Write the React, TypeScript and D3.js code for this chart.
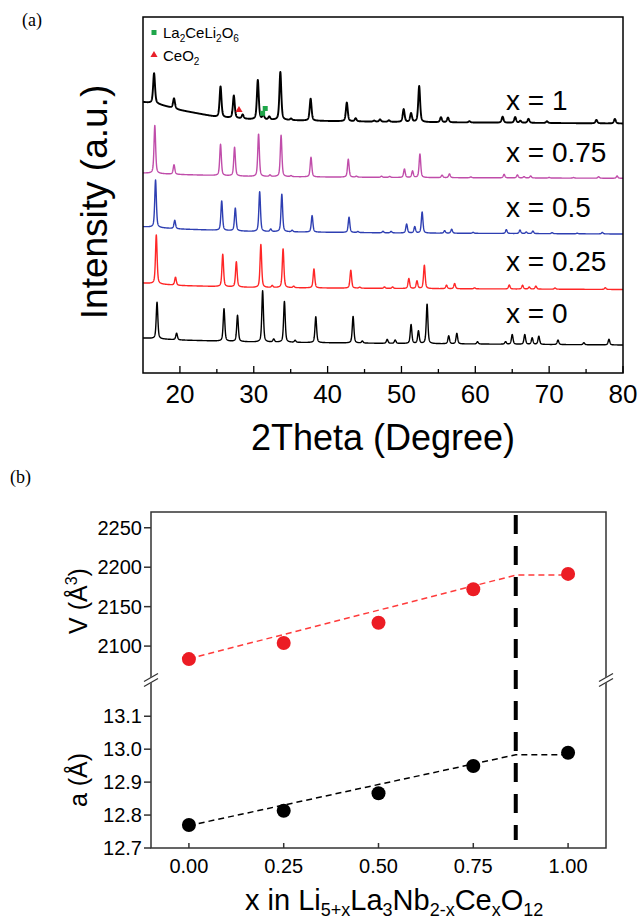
import React from 'react';
import * as d3 from 'd3';

// ---------------- Panel (a): XRD patterns ----------------
const twoThetaTicks = [20, 30, 40, 50, 60, 70, 80];
const twoThetaMinorTicks = [25, 35, 45, 55, 65, 75];
const sampleLabels = ['x = 0', 'x = 0.25', 'x = 0.5', 'x = 0.75', 'x = 1'];

// background levels (2θ, intensity a.u. incl. stacking offset)
const background_x0 = [[15, 35], [20, 33], [30, 31], [50, 29.5], [80, 28]];
const background_x025 = [[15, 90], [20, 87.5], [30, 85.5], [50, 84.5], [80, 83.5]];
const background_x05 = [[15, 146.3], [20, 144], [30, 141.5], [50, 140], [80, 139]];
const background_x075 = [[15, 200], [20, 198.5], [30, 196.5], [50, 195.5], [80, 194.7]];
const background_x1 = [[15, 271], [17, 269], [20, 263], [25, 256], [30, 253.5], [40, 252], [50, 251], [80, 249.5]];

// peaks (2θ, height a.u.)
const peaks_x0 = [
  [16.9, 36.6], [19.55, 6.7], [25.97, 32.5], [27.8, 26.2], [31.2, 51.3], [32.7, 3], [34.15, 41],
  [35.6, 2], [38.4, 26], [43.45, 26.7], [44.7, 2], [48.07, 4], [49.15, 3.4], [51.3, 19],
  [52.3, 12.5], [53.47, 39.6], [56.4, 8], [57.5, 10.5], [60.3, 2.3], [64.1, 2.5], [65.0, 9.7],
  [66.7, 9.8], [67.7, 6.5], [68.6, 8.2], [71.2, 4.5], [74.7, 2], [78.1, 5.6],
];
const peaks_x025 = [
  [16.8, 49], [19.4, 8], [25.8, 32.4], [27.64, 25.3], [30.96, 43], [32.5, 2], [33.97, 39],
  [35.4, 1.5], [38.15, 19], [43.14, 18], [44.35, 1], [47.7, 1.5], [48.8, 1.5], [51.0, 10],
  [52.1, 7.6], [53.1, 23.4], [56.1, 3.5], [57.2, 5.2], [59.9, 1], [64.6, 4], [66.4, 3.8],
  [67.3, 2], [68.2, 3], [70.8, 1.2], [77.6, 1.7],
];
const peaks_x05 = [
  [16.7, 47.5], [19.3, 8.3], [25.66, 29.5], [27.5, 22.7], [30.8, 39.8], [32.3, 2.5], [33.8, 37.5],
  [35.2, 1.5], [37.9, 16.5], [42.9, 15.3], [44.1, 1], [47.5, 1.5], [48.6, 1.5], [50.7, 9],
  [51.8, 6.3], [52.8, 21], [55.85, 2.5], [56.8, 4], [59.7, 1], [64.2, 3.8], [66.05, 3.5],
  [66.9, 1.5], [67.8, 2.5], [70.4, 1], [73.8, 0.6], [77.2, 1.5],
];
const peaks_x075 = [
  [16.6, 48], [19.2, 9.5], [25.5, 31.3], [27.4, 28.7], [30.65, 42.5], [32.2, 1.5], [33.7, 41.4],
  [35.05, 1], [37.75, 19.7], [42.8, 18], [43.9, 1], [47.3, 1.2], [48.4, 1], [50.4, 8.5],
  [51.5, 6.5], [52.5, 23.6], [55.5, 2.5], [56.5, 3.8], [59.4, 0.8], [63.9, 3.6], [65.7, 3],
  [66.6, 1.3], [67.5, 2], [70.0, 0.6], [73.3, 0.6], [76.7, 1.5], [79.2, 2.3],
];
const peaks_x1 = [
  [16.5, 30.3], [19.2, 10], [25.5, 30.8], [27.3, 22.5], [28.5, 4], [30.55, 39.5], [31.3, 4.5],
  [32.1, 3], [33.6, 48], [35.05, 1.5], [37.7, 22], [42.6, 18.7], [43.8, 3], [46.3, 1],
  [47.1, 2.3], [48.3, 1.5], [50.3, 12.7], [51.3, 8.7], [52.4, 36], [55.35, 5], [56.3, 4.7],
  [59.2, 1.2], [63.7, 6], [65.4, 5.7], [66.1, 2], [67.2, 4], [69.7, 1.7], [76.4, 3.4], [78.9, 4.5],
];

// impurity markers on the x = 1 pattern
const ceo2Marks = [[28.0, 263]];
const la2CeLi2O6Marks = [[31.2, 259.7], [31.55, 264.5]];

// ---------------- Panel (b): lattice parameters ----------------
const ceContent = [0, 0.25, 0.5, 0.75, 1.0];
const cellVolume = [2083.5, 2104, 2129.5, 2172, 2191.5];
const latticeA = [12.77, 12.813, 12.866, 12.949, 12.989];
const volumeGuide = [[0, 2084], [0.862, 2190], [1.0, 2190]];
const latticeGuide = [[0, 12.768], [0.862, 12.983], [1.0, 12.983]];
const solubilityLimit = 0.862;
const xTicksB = [0, 0.25, 0.5, 0.75, 1.0];
const vTicks = [2100, 2150, 2200, 2250];
const aTicks = [12.7, 12.8, 12.9, 13.0, 13.1];

// ---------------- styles / layout ----------------
const traceColors = ['#000000', '#FF2626', '#2E3FB2', '#C04DAA', '#000000'];
const traceWidths = [1.4, 1.4, 1.4, 1.4, 1.9];
const labelBaselines = [323, 271, 217, 162, 110];
const FONT = 'Liberation Sans, Arial, Helvetica, sans-serif';
const SERIF = 'Liberation Serif, Times New Roman, serif';

const A = { left: 143, right: 623, top: 17, bottom: 373 };
const B = { left: 151, right: 606, top: 512, bottom: 848, brk: 680 };

function pv(d: number, w: number) {
  const t = (2 * d) / w;
  return 0.5 / (1 + t * t) + 0.5 * Math.exp(-Math.LN2 * t * t);
}

function pattern(bg: number[][], peaks: number[][], w: number) {
  const bgScale = d3.scaleLinear().domain(bg.map((p) => p[0])).range(bg.map((p) => p[1])).clamp(true);
  const thetas = d3.range(15, 80.001, 0.02);
  return thetas.map((t) => {
    let v = bgScale(t);
    for (const [c, h] of peaks) {
      if (Math.abs(t - c) < 4) v += h * pv(t - c, w);
    }
    return [t, v] as [number, number];
  });
}

export default function App() {
  const x = d3.scaleLinear().domain([15, 80]).range([A.left, A.right]);
  const y = d3.scaleLinear().domain([0, 356]).range([A.bottom, A.top]);
  const series = [
    pattern(background_x0, peaks_x0, 0.26),
    pattern(background_x025, peaks_x025, 0.26),
    pattern(background_x05, peaks_x05, 0.26),
    pattern(background_x075, peaks_x075, 0.26),
    pattern(background_x1, peaks_x1, 0.3),
  ];
  const line = d3.line<[number, number]>().x((d) => x(d[0])).y((d) => y(d[1]));

  const xb = d3.scaleLinear().domain([-0.1, 1.1]).range([B.left, B.right]);
  const yv = d3.scaleLinear().domain([2057, 2270]).range([B.brk, B.top]);
  const ya = d3.scaleLinear().domain([12.7, 13.21]).range([B.bottom, B.brk]);
  const lineV = d3.line<number[]>().x((d) => xb(d[0])).y((d) => yv(d[1]));
  const lineA = d3.line<number[]>().x((d) => xb(d[0])).y((d) => ya(d[1]));
  const fx = d3.format('.2f');
  const fa = d3.format('.1f');

  const breakMark = (cx: number, cy: number) => (
    <g>
      <polygon points={`${cx - 8},${cy + 1.5} ${cx + 8},${cy - 7.5} ${cx + 8},${cy - 1.5} ${cx - 8},${cy + 7.5}`} fill="#fff" />
      <line x1={cx - 7} y1={cy + 1.5} x2={cx + 7} y2={cy - 6.5} stroke="#333" strokeWidth={1.3} />
      <line x1={cx - 7} y1={cy + 6.5} x2={cx + 7} y2={cy - 1.5} stroke="#333" strokeWidth={1.3} />
    </g>
  );

  return (
    <svg width={640} height={920} style={{ position: 'absolute', left: 0, top: 0, background: '#fff' }}>
      {/* ---------- panel (a) ---------- */}
      <text x={22} y={26} fontFamily={SERIF} fontSize={18}>(a)</text>
      {series.map((s, i) => (
        <path key={i} d={line(s) || ''} fill="none" stroke={traceColors[i]} strokeWidth={traceWidths[i]} strokeLinejoin="round" />
      ))}
      {ceo2Marks.map((m, i) => (
        <path key={'c' + i} d={d3.symbol(d3.symbolTriangle, 22)() || ''} transform={`translate(${x(m[0])},${y(m[1])})`} fill="#E8202A" />
      ))}
      {la2CeLi2O6Marks.map((m, i) => (
        <rect key={'l' + i} x={x(m[0]) - 2.5} y={y(m[1]) - 2.5} width={5} height={5} fill="#1FA64A" />
      ))}
      {sampleLabels.map((l, i) => (
        <text key={l} x={506} y={labelBaselines[i]} fontFamily={FONT} fontSize={28}>{l}</text>
      ))}
      {/* legend */}
      <rect x={151.5} y={30} width={5} height={5} fill="#1FA64A" />
      <text x={163} y={37.5} fontFamily={FONT} fontSize={15}>
        La<tspan fontSize={10} dy={4}>2</tspan><tspan dy={-4}>CeLi</tspan><tspan fontSize={10} dy={4}>2</tspan><tspan dy={-4}>O</tspan><tspan fontSize={10} dy={4}>6</tspan>
      </text>
      <path d={d3.symbol(d3.symbolTriangle, 22)() || ''} transform="translate(154,55)" fill="#E8202A" />
      <text x={163} y={60.5} fontFamily={FONT} fontSize={15}>
        CeO<tspan fontSize={10} dy={4}>2</tspan>
      </text>
      <rect x={A.left} y={A.top} width={A.right - A.left} height={A.bottom - A.top} fill="none" stroke="#000" strokeWidth={1.5} />
      {twoThetaTicks.map((t) => (
        <g key={t}>
          <line x1={x(t)} x2={x(t)} y1={A.bottom} y2={A.bottom - 7} stroke="#000" strokeWidth={1.3} />
          <text x={x(t)} y={403} textAnchor="middle" fontFamily={FONT} fontSize={26}>{t}</text>
        </g>
      ))}
      {twoThetaMinorTicks.map((t) => (
        <line key={t} x1={x(t)} x2={x(t)} y1={A.bottom} y2={A.bottom - 4} stroke="#000" strokeWidth={1.3} />
      ))}
      <text x={383} y={450} textAnchor="middle" fontFamily={FONT} fontSize={36}>2Theta (Degree)</text>
      <text transform="translate(107,202) rotate(-90)" textAnchor="middle" fontFamily={FONT} fontSize={37}>Intensity (a.u.)</text>

      {/* ---------- panel (b) ---------- */}
      <text x={10} y={483} fontFamily={SERIF} fontSize={18}>(b)</text>
      <line x1={xb(solubilityLimit)} x2={xb(solubilityLimit)} y1={515} y2={840} stroke="#000" strokeWidth={4} strokeDasharray="19,12" />
      <path d={lineV(volumeGuide) || ''} fill="none" stroke="#FF3B3B" strokeWidth={1.5} strokeDasharray="6,4" />
      <path d={lineA(latticeGuide) || ''} fill="none" stroke="#000" strokeWidth={1.5} strokeDasharray="6,4" />
      {ceContent.map((c, i) => (
        <circle key={'v' + i} cx={xb(c)} cy={yv(cellVolume[i])} r={7} fill="#EC1C24" />
      ))}
      {ceContent.map((c, i) => (
        <circle key={'a' + i} cx={xb(c)} cy={ya(latticeA[i])} r={7} fill="#000" />
      ))}
      <rect x={B.left} y={B.top} width={B.right - B.left} height={B.bottom - B.top} fill="none" stroke="#333" strokeWidth={1.5} />
      {breakMark(B.left, B.brk)}
      {breakMark(B.right, B.brk)}
      {vTicks.map((t) => (
        <g key={t}>
          <line x1={B.left - 7} x2={B.left} y1={yv(t)} y2={yv(t)} stroke="#333" strokeWidth={1.5} />
          <text x={142} y={yv(t) + 7} textAnchor="end" fontFamily={FONT} fontSize={20}>{t}</text>
        </g>
      ))}
      {aTicks.map((t) => (
        <g key={t}>
          <line x1={B.left - 7} x2={B.left} y1={ya(t)} y2={ya(t)} stroke="#333" strokeWidth={1.5} />
          <text x={142} y={ya(t) + 7} textAnchor="end" fontFamily={FONT} fontSize={20}>{fa(t)}</text>
        </g>
      ))}
      {xTicksB.map((t) => (
        <g key={t}>
          <line x1={xb(t)} x2={xb(t)} y1={B.bottom} y2={B.bottom - 5} stroke="#333" strokeWidth={1.5} />
          <text x={xb(t)} y={873} textAnchor="middle" fontFamily={FONT} fontSize={20}>{fx(t)}</text>
        </g>
      ))}
      <text transform="translate(87,601) rotate(-90)" textAnchor="middle" fontFamily={FONT} fontSize={25}>
        V (Å<tspan fontSize={16} dy={-10}>3</tspan><tspan dy={10}>)</tspan>
      </text>
      <text transform="translate(87,780) rotate(-90)" textAnchor="middle" fontFamily={FONT} fontSize={25}>a (Å)</text>
      <text x={245} y={910} fontFamily={FONT} fontSize={29}>
        x in Li<tspan fontSize={18} dy={6}>5+x</tspan><tspan dy={-6}>La</tspan><tspan fontSize={18} dy={6}>3</tspan><tspan dy={-6}>Nb</tspan><tspan fontSize={18} dy={6}>2-x</tspan><tspan dy={-6}>Ce</tspan><tspan fontSize={18} dy={6}>x</tspan><tspan dy={-6}>O</tspan><tspan fontSize={18} dy={6}>12</tspan>
      </text>
    </svg>
  );
}
